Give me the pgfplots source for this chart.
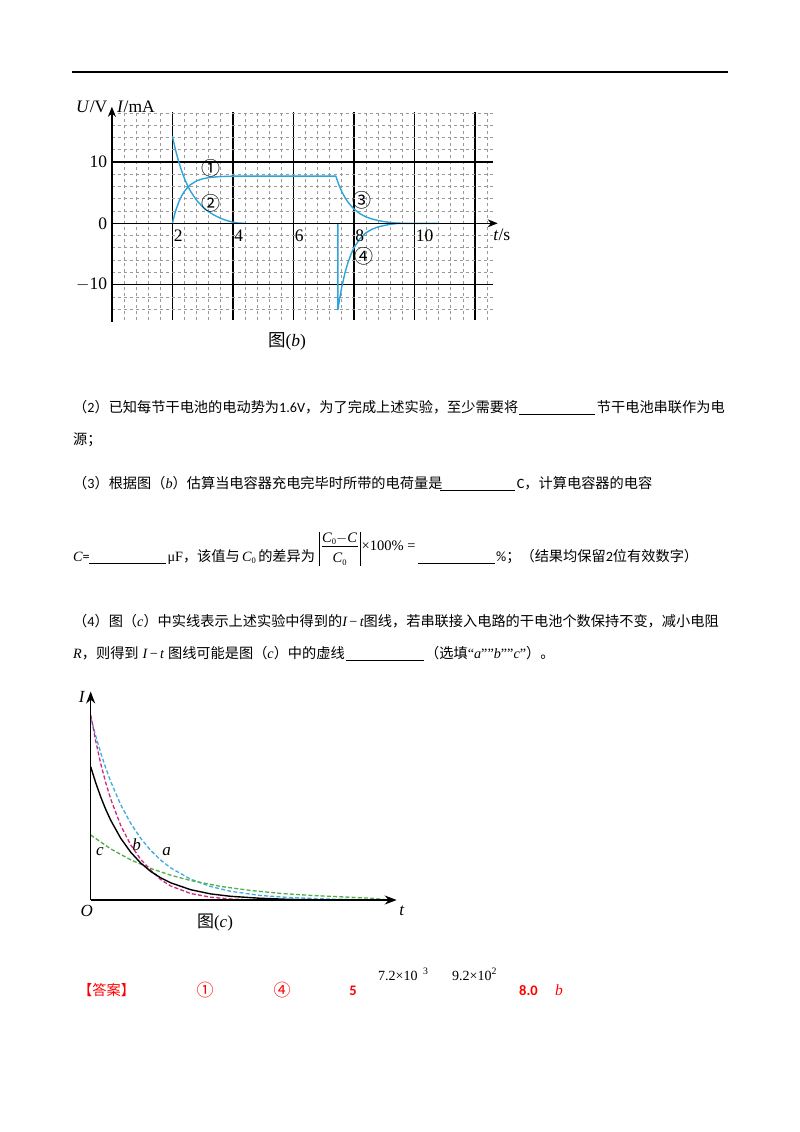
\documentclass[border=0pt]{standalone}
\usepackage{pgfplots}
\pgfplotsset{compat=1.18}
\usepackage{fontspec}
\setmainfont{Liberation Serif}
\newfontfamily\cjk{Noto Sans CJK SC}
\newfontfamily\calib{Carlito}
\usetikzlibrary{arrows.meta}
\definecolor{cblue}{HTML}{2EA4DC}
\definecolor{cmag}{HTML}{D0287F}
\definecolor{cdblue}{HTML}{3BAEE0}
\definecolor{cgreen}{HTML}{4DAE4A}
\newcommand\zh{\cjk\fontsize{14.2}{16}\selectfont}
\newcommand\chf{\rmfamily\fontsize{17.5}{17.5}\selectfont}
\newcommand\Cz{{\rmfamily\itshape C}\raisebox{-2.5pt}{\rmfamily\fontsize{8.5}{8.5}\selectfont 0}}
\begin{document}
\begin{tikzpicture}[x=1pt,y=-1pt]
\path[use as bounding box] (0,0) rectangle (800,1132);
\fill[white] (0,0) rectangle (800,1132);
\draw[line width=1.8pt] (72,72) -- (728,72);

% ---------------- chart (b) ----------------
\begin{axis}[at={(111.9pt,-223.3pt)}, anchor=origin, scale only axis,
  width=381.2pt, height=208.4pt,
  xmin=0, xmax=12.6, ymin=-15.8, ymax=18.2,
  axis line style={draw=none}, clip=false,
  xtick={2,4,6,8,10,12}, ytick={-10,0,10},
  minor xtick={0.4,0.8,1.2,1.6,2.4,2.8,3.2,3.6,4.4,4.8,5.2,5.6,6.4,6.8,7.2,7.6,8.4,8.8,9.2,9.6,10.4,10.8,11.2,11.6,12.4},
  minor ytick={-14,-12,-8,-6,-4,-2,2,4,6,8,12,14,16,18},
  xticklabels={}, yticklabels={},
  major tick length=0pt, minor tick length=0pt,
  grid=both,
  major grid style={black, line width=1.3pt},
  minor grid style={black!40, line width=0.7pt, dash pattern=on 3.5pt off 2.5pt},
]
\addplot[cblue, line width=1.4pt, line join=round] coordinates {
(2,0)(2.05,1.02)(2.1,1.92)(2.2,3.35)(2.3,4.43)(2.4,5.24)(2.5,5.85)(2.6,6.31)(2.8,6.92)(3.0,7.26)(3.2,7.45)(3.4,7.56)(3.6,7.62)(3.8,7.66)(4.0,7.7)(7.4,7.7)(7.5,6.30)(7.6,5.16)(7.7,4.22)(7.8,3.46)(8.0,2.32)(8.2,1.56)(8.4,1.04)(8.6,0.70)(8.8,0.45)(9.0,0.27)(9.2,0.13)(9.4,0.04)(9.6,0)(10.8,0)};
\addplot[cblue, line width=1.4pt, line join=round] coordinates {
(2,14.2)(2.1,12.02)(2.2,10.18)(2.3,8.62)(2.4,7.29)(2.5,6.17)(2.6,5.23)(2.8,3.75)(3.0,2.68)(3.2,1.88)(3.4,1.28)(3.6,0.8)(3.8,0.45)(4.0,0.18)(4.2,0.03)(4.4,0)};
\addplot[cblue, line width=1.4pt, line join=round] coordinates {
(7.47,0)(7.47,-14.1)(7.52,-12.5)(7.6,-10.35)(7.7,-8.15)(7.8,-6.43)(7.9,-5.07)(8.0,-3.99)(8.2,-2.48)(8.4,-1.54)(8.6,-0.96)(8.8,-0.59)(9.0,-0.35)(9.2,-0.17)(9.4,-0.05)(9.55,0)};
% axes
\draw[line width=1.4pt, -{Stealth[length=10pt,width=8pt]}] (axis cs:0,-16.05) -- (axis cs:0,19.0);
\draw[line width=1.4pt, -{Stealth[length=10pt,width=8pt]}] (axis cs:0,0) -- (axis cs:12.75,0);
% tick labels
\node[anchor=east, inner sep=0, xshift=-4.6pt, font=\chf] at (axis cs:0,10) {10};
\node[anchor=east, inner sep=0, xshift=-4.6pt, font=\chf] at (axis cs:0,0) {0};
\node[anchor=east, inner sep=0, xshift=-4.6pt, font=\chf] at (axis cs:0,-10) {$-$10};
\node[anchor=north west, inner sep=0, xshift=1.2pt, yshift=-6pt, font=\chf] at (axis cs:2,0) {2};
\node[anchor=north west, inner sep=0, xshift=1.2pt, yshift=-6pt, font=\chf] at (axis cs:4,0) {4};
\node[anchor=north west, inner sep=0, xshift=1.2pt, yshift=-6pt, font=\chf] at (axis cs:6,0) {6};
\node[anchor=north west, inner sep=0, xshift=1.2pt, yshift=-6pt, font=\chf] at (axis cs:8,0) {8};
\node[anchor=north west, inner sep=0, xshift=1.2pt, yshift=-6pt, font=\chf] at (axis cs:10,0) {10};
\node[anchor=west, inner sep=0, font=\chf] at (axis cs:12.6,-1.9) {\textit{t}/s};
% curve labels
\node[font=\cjk\fontsize{19}{19}\selectfont, inner sep=0] at (axis cs:3.27,8.97) {①};
\node[font=\cjk\fontsize{19}{19}\selectfont, inner sep=0] at (axis cs:3.27,3.26) {②};
\node[font=\cjk\fontsize{19}{19}\selectfont, inner sep=0] at (axis cs:8.26,3.69) {③};
\node[font=\cjk\fontsize{19}{19}\selectfont, inner sep=0] at (axis cs:8.34,-5.45) {④};
\end{axis}
\node[anchor=east, inner sep=0, font=\chf] at (107.5,106.7) {\textit{U}/V};
\node[anchor=west, inner sep=0, font=\chf] at (117,106.7) {\textit{I}/mA};
\node[inner sep=0, font=\chf] at (287,341) {{\cjk 图}(\textit{b})};

% ---------------- text ----------------
\node[anchor=base west, inner sep=0] at (73,412.5) {\zh （\calib 2\cjk）已知每节干电池的电动势为\calib 1.6V\cjk，为了完成上述实验，至少需要将};
\draw[line width=0.9pt] (519,414.5) -- (595,414.5);
\node[anchor=base west, inner sep=0] at (596.7,412.5) {\zh 节干电池串联作为电};
\node[anchor=base west, inner sep=0] at (73,444.5) {\zh 源；};

\node[anchor=base west, inner sep=0] at (73,488) {\zh （\calib 3\cjk）根据图（{\rmfamily\itshape b}）估算当电容器充电完毕时所带的电荷量是};
\draw[line width=0.9pt] (440,490) -- (515,490);
\node[anchor=base west, inner sep=0] at (516.7,488) {\zh {\calib C}，计算电容器的电容};

\node[anchor=base west, inner sep=0] at (73,561) {\zh {\rmfamily\itshape C}{\calib =}};
\draw[line width=0.9pt] (89.3,563) -- (166,563);
\node[anchor=base west, inner sep=0] at (167.3,561) {\zh {\rmfamily μF}，该值与\,\Cz\,的差异为};
% fraction
\draw[line width=0.8pt] (319,531.5) -- (319,565.5);
\draw[line width=0.8pt] (360,531.5) -- (360,565.5);
\draw[line width=0.6pt] (321.5,546.5) -- (358,546.5);
\node[anchor=base, inner sep=0, font=\rmfamily\fontsize{14.5}{14.5}\selectfont] at (339.7,542) {\Cz$-$\textit{C}};
\node[anchor=base, inner sep=0, font=\rmfamily\fontsize{14.5}{14.5}\selectfont] at (339.7,562.5) {\Cz};
\node[anchor=base west, inner sep=0, font=\rmfamily\fontsize{14.5}{14.5}\selectfont] at (361.5,550) {×100\% =};
\draw[line width=0.9pt] (418.3,563) -- (495,563);
\node[anchor=base west, inner sep=0] at (496,561) {\zh {\calib \%}；（结果均保留{\calib 2}位有效数字）};

\node[anchor=base west, inner sep=0] at (73,626) {\zh （\calib 4\cjk）图（{\rmfamily\itshape c}）中实线表示上述实验中得到的{\rmfamily\itshape I\,\upshape−\,\itshape t}图线，若串联接入电路的干电池个数保持不变，减小电阻};
\node[anchor=base west, inner sep=0] at (73,658) {\zh {\rmfamily\itshape R}，则得到\hspace{4pt}{\rmfamily\itshape I\,\upshape−\,\itshape t}\hspace{4pt}图线可能是图（{\rmfamily\itshape c}）中的虚线};
\draw[line width=0.9pt] (346,660) -- (424,660);
\node[anchor=base west, inner sep=0] at (425,658) {\zh （选填{\rmfamily “\textit{a}””\textit{b}””\textit{c}”}）。};

% ---------------- chart (c) ----------------
\begin{axis}[at={(90.7pt,-900pt)}, anchor=origin, scale only axis,
  width=300pt, height=200pt, xmin=0, xmax=300, ymin=0, ymax=200,
  hide axis, clip=false]
\addplot[cdblue, line width=1.3pt, dash pattern=on 4pt off 2.2pt] coordinates {
(0,183)(5,164.2)(10,147.3)(15,132.1)(20,118.5)(30,95.3)(40,76.7)(50,61.7)(60,49.6)(70,39.9)(80,32.1)(100,20.8)(120,13.5)(140,8.7)(170,4.5)(200,2.4)(240,0.9)(280,0.2)(295,0)};
\addplot[cgreen, line width=1.3pt, dash pattern=on 4pt off 2.2pt] coordinates {
(0,65)(20,51.1)(40,40.2)(60,31.6)(80,24.8)(100,19.5)(130,13.6)(160,9.5)(190,6.6)(220,4.6)(250,3.2)(280,1.8)(296,0.3)};
\addplot[cmag, line width=1.3pt, dash pattern=on 4pt off 2.2pt] coordinates {
(0,185)(5,159)(10,136.5)(15,117.4)(20,101)(30,74.6)(40,55.1)(50,40.7)(60,30)(70,20.5)(80,14)(100,6.5)(120,2.8)(140,1)(160,0.3)(180,0)};
\addplot[black, line width=1.4pt] coordinates {
(0,133.3)(5,117.3)(10,103.2)(15,90.7)(20,79.8)(30,61.8)(40,47.8)(50,37.0)(60,28.6)(70,22.2)(80,17.2)(100,10.3)(120,6.1)(140,3.7)(170,1.7)(200,0.6)(230,0.2)(290,0)};
\draw[line width=1.5pt, -{Stealth[length=12pt,width=9pt]}] (axis cs:0,0) -- (axis cs:0,208.5);
\draw[line width=1.5pt, -{Stealth[length=12pt,width=9pt]}] (axis cs:0,0) -- (axis cs:306,0);
\node[font=\rmfamily\itshape\fontsize{17}{17}\selectfont, inner sep=0] at (axis cs:9.3,48.3) {c};
\node[font=\rmfamily\itshape\fontsize{17}{17}\selectfont, inner sep=0] at (axis cs:46,55) {b};
\node[font=\rmfamily\itshape\fontsize{17}{17}\selectfont, inner sep=0] at (axis cs:76,48.3) {a};
\end{axis}
\node[inner sep=0, font=\rmfamily\itshape\fontsize{17}{17}\selectfont] at (81.7,696.7) {I};
\node[inner sep=0, font=\rmfamily\itshape\fontsize{17}{17}\selectfont] at (86.7,911) {O};
\node[inner sep=0, font=\rmfamily\itshape\fontsize{17}{17}\selectfont] at (401.7,911) {t};
\node[inner sep=0, font=\rmfamily\fontsize{17}{17}\selectfont] at (215,923) {{\cjk 图}(\textit{c})};

% ---------------- answer ----------------
\node[anchor=base west, inner sep=0, text=red] at (78,995) {\zh 【答案】};
\node[inner sep=0, text=red, font=\cjk\fontsize{17}{17}\selectfont] at (205,990) {①};
\node[inner sep=0, text=red, font=\cjk\fontsize{17}{17}\selectfont] at (282,990) {④};
\node[anchor=base, inner sep=0, text=red, font=\calib\bfseries\fontsize{14.5}{14.5}\selectfont] at (353,995) {5};
\node[anchor=base west, inner sep=0, font=\rmfamily\fontsize{14}{14}\selectfont] at (378,980) {7.2×10\textsuperscript{\phantom{−}3}};
\node[anchor=base west, inner sep=0, font=\rmfamily\fontsize{14}{14}\selectfont] at (452,980) {9.2×10\textsuperscript{2}};
\node[anchor=base west, inner sep=0, text=red, font=\calib\bfseries\fontsize{14.5}{14.5}\selectfont] at (519,995) {8.0};
\node[anchor=base west, inner sep=0, text=red, font=\rmfamily\itshape\fontsize{15.5}{15.5}\selectfont] at (555,995) {b};
\end{tikzpicture}
\end{document}
